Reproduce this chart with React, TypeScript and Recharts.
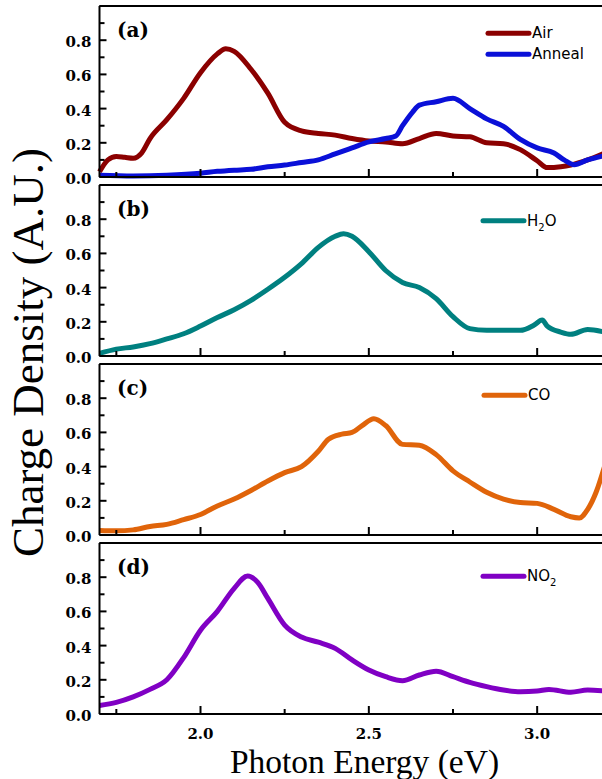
import React from 'react';
import { LineChart, Line, XAxis, YAxis } from 'recharts';

// photon energy (eV) and charge density (a.u.)
const airE = [1.7, 1.725, 1.75, 1.775, 1.8, 1.825, 1.85, 1.9, 1.95, 2.0, 2.05, 2.075, 2.1, 2.15, 2.2, 2.25, 2.3, 2.35, 2.4, 2.45, 2.5, 2.55, 2.6, 2.65, 2.7, 2.75, 2.8, 2.85, 2.9, 2.95, 3.0, 3.03, 3.07, 3.1, 3.15, 3.2];
const airV = [0.03, 0.1, 0.12, 0.115, 0.11, 0.14, 0.225, 0.335, 0.46, 0.61, 0.72, 0.75, 0.735, 0.63, 0.49, 0.32, 0.27, 0.255, 0.245, 0.225, 0.21, 0.205, 0.195, 0.225, 0.255, 0.24, 0.235, 0.2, 0.195, 0.16, 0.095, 0.055, 0.06, 0.07, 0.1, 0.14];

const annealE = [1.7, 1.8, 1.9, 2.0, 2.05, 2.1, 2.15, 2.2, 2.25, 2.3, 2.35, 2.4, 2.45, 2.5, 2.55, 2.58, 2.6, 2.63, 2.65, 2.7, 2.75, 2.8, 2.85, 2.9, 2.95, 3.0, 3.05, 3.08, 3.11, 3.15, 3.2];
const annealV = [0.01, 0.006, 0.01, 0.022, 0.033, 0.04, 0.045, 0.06, 0.07, 0.085, 0.1, 0.135, 0.17, 0.205, 0.225, 0.24, 0.3, 0.38, 0.42, 0.44, 0.46, 0.4, 0.34, 0.296, 0.22, 0.17, 0.14, 0.1, 0.072, 0.1, 0.125];

const h2oE = [1.7, 1.75, 1.8, 1.85, 1.9, 1.95, 2.0, 2.05, 2.1, 2.15, 2.2, 2.25, 2.3, 2.35, 2.4, 2.425, 2.45, 2.5, 2.55, 2.6, 2.65, 2.7, 2.75, 2.8, 2.85, 2.9, 2.95, 2.99, 3.015, 3.03, 3.07, 3.1, 3.15, 3.2];
const h2oV = [0.015, 0.04, 0.053, 0.072, 0.1, 0.13, 0.175, 0.225, 0.27, 0.325, 0.39, 0.46, 0.54, 0.635, 0.7, 0.715, 0.7, 0.61, 0.5, 0.43, 0.4, 0.335, 0.23, 0.16, 0.15, 0.15, 0.15, 0.18, 0.21, 0.175, 0.14, 0.127, 0.155, 0.14];

const coE = [1.7, 1.75, 1.8, 1.85, 1.9, 1.95, 2.0, 2.05, 2.1, 2.15, 2.2, 2.25, 2.3, 2.35, 2.38, 2.42, 2.45, 2.48, 2.515, 2.55, 2.6, 2.65, 2.7, 2.75, 2.8, 2.85, 2.9, 2.95, 3.0, 3.05, 3.1, 3.125, 3.15, 3.175, 3.2];
const coV = [0.027, 0.025, 0.03, 0.05, 0.062, 0.09, 0.12, 0.17, 0.21, 0.26, 0.316, 0.365, 0.4, 0.49, 0.56, 0.59, 0.6, 0.64, 0.68, 0.64, 0.53, 0.525, 0.47, 0.375, 0.31, 0.25, 0.21, 0.19, 0.185, 0.15, 0.107, 0.1, 0.15, 0.25, 0.4];

const no2E = [1.7, 1.75, 1.8, 1.85, 1.9, 1.95, 2.0, 2.05, 2.1, 2.14, 2.17, 2.2, 2.25, 2.3, 2.35, 2.4, 2.45, 2.5, 2.55, 2.6, 2.65, 2.7, 2.75, 2.8, 2.85, 2.9, 2.95, 3.0, 3.035, 3.1, 3.15, 3.2];
const no2V = [0.05, 0.068, 0.1, 0.144, 0.2, 0.33, 0.49, 0.6, 0.735, 0.807, 0.77, 0.676, 0.52, 0.45, 0.42, 0.384, 0.316, 0.257, 0.218, 0.195, 0.228, 0.25, 0.218, 0.185, 0.16, 0.14, 0.13, 0.134, 0.144, 0.127, 0.14, 0.134];

const xTicks = [1.75, 2.0, 2.25, 2.5, 2.75, 3.0];
const xLabels = [2.0, 2.5, 3.0];
const yTicks = [0, 0.1, 0.2, 0.3, 0.4, 0.5, 0.6, 0.7, 0.8, 0.9, 1.0];
const yLabels = [0, 0.2, 0.4, 0.6, 0.8];

const toRows = (e: number[], v: number[]) => e.map((x, i) => ({ e: x, v: v[i] }));

const PLOT_LEFT = 99.5;
const PLOT_W = 505;
const PLOT_H = 171;
const CHART_W = 620;
const PAD_TOP = 20;
const PAD_BOTTOM = 45;
const AX = 1; // axis band size, recharts skips an axis of size 0
const panelTops = [6.3, 185.3, 364.3, 543.3];

const tickFont = { fontFamily: 'DejaVu Serif', fontWeight: 'bold' as const, fontSize: 15, fill: '#000' };
const has = (list: number[], v: number) => list.some((t) => Math.abs(t - v) < 1e-6);

type Series = { name: string; sub?: string; color: string; rows: { e: number; v: number }[]; ly: number; lx: number };

const panels: { tag: string; series: Series[] }[] = [
  {
    tag: '(a)',
    series: [
      { name: 'Air', color: '#8b0000', rows: toRows(airE, airV), ly: 27, lx: 488 },
      { name: 'Anneal', color: '#0a10d8', rows: toRows(annealE, annealV), ly: 48, lx: 488 },
    ],
  },
  { tag: '(b)', series: [{ name: 'H', sub: 'O', color: '#008080', rows: toRows(h2oE, h2oV), ly: 35.4, lx: 483 }] },
  { tag: '(c)', series: [{ name: 'CO', color: '#e0640a', rows: toRows(coE, coV), ly: 31, lx: 484 }] },
  { tag: '(d)', series: [{ name: 'NO', sub: '', color: '#8000c4', rows: toRows(no2E, no2V), ly: 33, lx: 483 }] },
];

const XTick = ({ x, y, payload, dir, label }: any) => {
  const major = has(xLabels, payload.value);
  const len = major ? 8 : 5;
  return (
    <g>
      <line x1={x} x2={x} y1={y} y2={y + dir * len} stroke="#000" strokeWidth={2} />
      {label && major && (
        <text x={x} y={y + 25.2} textAnchor="middle" {...tickFont}>
          {payload.value.toFixed(1)}
        </text>
      )}
    </g>
  );
};

const YTick = ({ x, y, payload, dir, label }: any) => {
  const major = has(yLabels, payload.value) || Math.abs(payload.value - 1) < 1e-6;
  const len = major ? 7 : 5;
  return (
    <g>
      <line x1={x} x2={x + dir * len} y1={y} y2={y} stroke="#000" strokeWidth={2} />
      {label && has(yLabels, payload.value) && (
        <text x={x - 8} y={y + 7} textAnchor="end" {...tickFont}>
          {payload.value.toFixed(1)}
        </text>
      )}
    </g>
  );
};

const axisLine = { stroke: '#000', strokeWidth: 2 };

const Panel = ({ index }: { index: number }) => {
  const p = panels[index];
  const last = index === panels.length - 1;
  const h = PAD_TOP + PLOT_H + PAD_BOTTOM;
  return (
    <div style={{ position: 'absolute', left: 0, top: panelTops[index] - PAD_TOP, width: CHART_W, height: h }}>
      <LineChart
        width={CHART_W}
        height={h}
        margin={{ top: PAD_TOP - AX, bottom: PAD_BOTTOM - AX, left: PLOT_LEFT - AX, right: CHART_W - PLOT_LEFT - PLOT_W - AX }}
      >
        <XAxis xAxisId="b" dataKey="e" type="number" domain={[1.7, 3.2]} ticks={xTicks} interval={0} height={AX}
          axisLine={axisLine} tickLine={false} tickSize={0} tickMargin={0}
          tick={(t: any) => <XTick {...t} dir={-1} label={last} />} />
        <XAxis xAxisId="t" orientation="top" dataKey="e" type="number" domain={[1.7, 3.2]} ticks={xTicks} interval={0} height={AX}
          axisLine={axisLine} tickLine={false} tickSize={0} tickMargin={0}
          tick={(t: any) => <XTick {...t} dir={1} label={false} />} />
        <YAxis yAxisId="l" type="number" domain={[0, 1]} ticks={yTicks} interval={0} width={AX}
          axisLine={axisLine} tickLine={false} tickSize={0} tickMargin={0}
          tick={(t: any) => <YTick {...t} dir={1} label />} />
        <YAxis yAxisId="r" orientation="right" type="number" domain={[0, 1]} ticks={yTicks} interval={0} width={AX}
          axisLine={axisLine} tickLine={false} tickSize={0} tickMargin={0}
          tick={(t: any) => <YTick {...t} dir={-1} label={false} />} />
        {p.series.map((s) => (
          <Line key={s.name} data={s.rows} dataKey="v" xAxisId="b" yAxisId="l" type="monotone"
            stroke={s.color} strokeWidth={5} dot={false} activeDot={false} isAnimationActive={false} />
        ))}
      </LineChart>
    </div>
  );
};

const Overlay = () => (
  <svg width={602} height={779} style={{ position: 'absolute', left: 0, top: 0, pointerEvents: 'none' }}>
    <text transform="translate(43,352.5) rotate(-90)" textAnchor="middle" fontFamily="Liberation Serif" fontSize={45} fill="#000">
      Charge Density (A.U.)
    </text>
    <text x={364.5} y={773} textAnchor="middle" fontFamily="Liberation Serif" fontSize={33.5} fill="#000">
      Photon Energy (eV)
    </text>
    {panels.map((p, i) => (
      <g key={p.tag}>
        <text x={117} y={panelTops[i] + 30.5} fontFamily="DejaVu Serif" fontWeight="bold" fontSize={20} fill="#000">
          {p.tag}
        </text>
        {p.series.map((s) => {
          const y = panelTops[i] + s.ly;
          return (
            <g key={s.name}>
              <line x1={s.lx} x2={s.lx + 41} y1={y} y2={y} stroke={s.color} strokeWidth={5} strokeLinecap="round" />
              <text x={s.lx + 44} y={y + 5} fontFamily="DejaVu Sans" fontSize={15} fill="#000">
                {s.name}
                {s.sub !== undefined && (
                  <>
                    <tspan fontSize={10} dy={5}>2</tspan>
                    <tspan dy={-5}>{s.sub}</tspan>
                  </>
                )}
              </text>
            </g>
          );
        })}
      </g>
    ))}
  </svg>
);

export default function App() {
  return (
    <div style={{ position: 'fixed', left: 0, top: 0, width: 602, height: 779, overflow: 'hidden', background: '#fff' }}>
      {panels.map((p, i) => (
        <Panel key={p.tag} index={i} />
      ))}
      <Overlay />
    </div>
  );
}
